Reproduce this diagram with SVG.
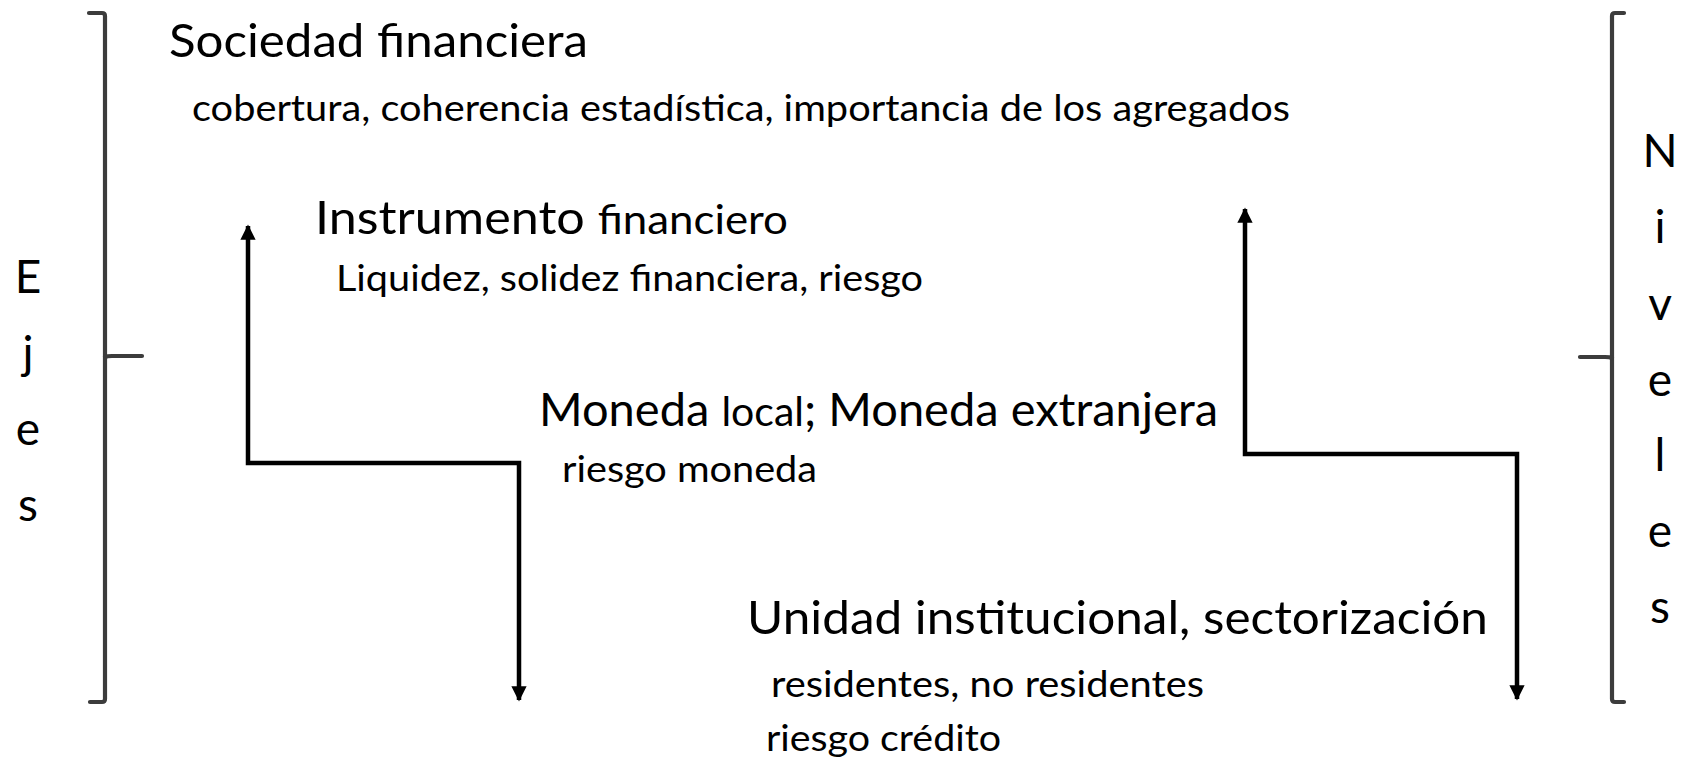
<svg xmlns="http://www.w3.org/2000/svg" width="1690" height="764" viewBox="0 0 1690 764">
<style>
text{font-family:Lato,"Open Sans","Liberation Sans",sans-serif;fill:#000}
.h{font-size:47px}
.hs{font-size:41px}
.s{font-size:37px}
.v{font-size:46px;text-anchor:middle}
.br{fill:none;stroke:#3c3c3c;stroke-width:4.2;stroke-linecap:round;stroke-linejoin:round}
.cn{fill:none;stroke:#000;stroke-width:4.5;stroke-linejoin:miter}
</style>
<defs>
<marker id="ah" viewBox="0 0 10 10" refX="9" refY="5" markerWidth="3.4" markerHeight="3.4" markerUnits="strokeWidth" orient="auto-start-reverse">
<path d="M0,0 L10,5 L0,10 Z" fill="#000"/>
</marker>
</defs>
<rect width="1690" height="764" fill="#fff"/>
<g id="bracket-left">
<path class="br" d="M89,13 L102,13 Q105,13 105,16 L105,699 Q105,702 102,702 L90,702"/>
<path class="br" d="M105,357 Q107,356 112,356 L142,356"/>
</g>
<g id="bracket-right">
<path class="br" d="M1624,13 L1615,13 Q1612,13 1612,16 L1612,699 Q1612,702 1615,702 L1624,702"/>
<path class="br" d="M1612,358 Q1610,357 1605,357 L1580,357"/>
</g>
<g id="label-ejes">
<text class="v" x="28" y="293">E</text>
<text class="v" x="28" y="369">j</text>
<text class="v" x="28" y="445">e</text>
<text class="v" x="28" y="521">s</text>
</g>
<g id="label-niveles">
<text class="v" x="1660" y="167">N</text>
<text class="v" x="1660" y="243">i</text>
<text class="v" x="1660" y="320">v</text>
<text class="v" x="1660" y="396">e</text>
<text class="v" x="1660" y="471">l</text>
<text class="v" x="1660" y="547">e</text>
<text class="v" x="1660" y="623">s</text>
</g>
<g id="node-sociedad">
<text class="h" x="169" y="57" textLength="419" lengthAdjust="spacingAndGlyphs">Sociedad financiera</text>
<text class="s" x="192" y="121" textLength="1098" lengthAdjust="spacingAndGlyphs">cobertura, coherencia estadística, importancia de los agregados</text>
</g>
<g id="node-instrumento">
<text class="h" x="315" y="234" textLength="473" lengthAdjust="spacingAndGlyphs">Instrumento <tspan class="hs">financiero</tspan></text>
<text class="s" x="336" y="291" textLength="587" lengthAdjust="spacingAndGlyphs">Liquidez, solidez financiera, riesgo</text>
</g>
<g id="node-moneda">
<text class="h" x="539" y="426" textLength="679" lengthAdjust="spacingAndGlyphs">Moneda <tspan class="hs">local</tspan>; Moneda extranjera</text>
<text class="s" x="562" y="482" textLength="255" lengthAdjust="spacingAndGlyphs">riesgo moneda</text>
</g>
<g id="node-unidad">
<text class="h" x="747" y="634" textLength="741" lengthAdjust="spacingAndGlyphs">Unidad institucional, sectorización</text>
<text class="s" x="771" y="697" textLength="433" lengthAdjust="spacingAndGlyphs">residentes, no residentes</text>
<text class="s" x="766" y="751" textLength="235" lengthAdjust="spacingAndGlyphs">riesgo crédito</text>
</g>
<g id="connectors">
<path class="cn" d="M519,700 L519,463 L248,463 L248,226" marker-start="url(#ah)" marker-end="url(#ah)"/>
<path class="cn" d="M1517,699 L1517,454 L1245,454 L1245,209" marker-start="url(#ah)" marker-end="url(#ah)"/>
</g>
</svg>
